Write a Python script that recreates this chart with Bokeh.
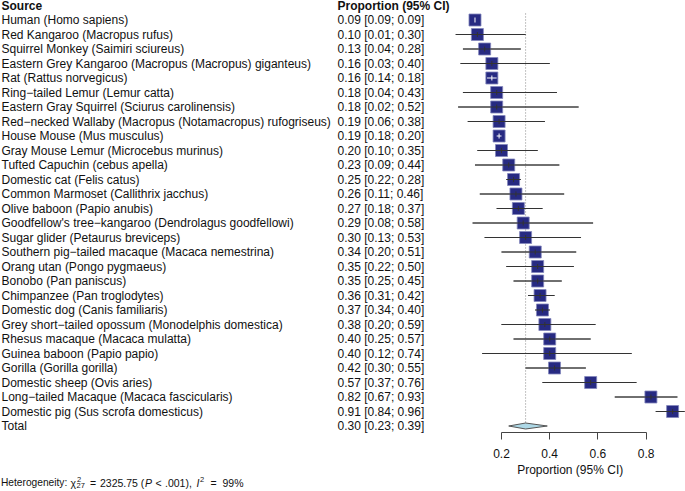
from bokeh.plotting import figure
from bokeh.models import Range1d, FixedTicker, LinearAxis
from bokeh.embed import file_html
from bokeh.resources import INLINE
from bokeh.core.properties import value

# ---------------- data ----------------
species = [
    "Human (Homo sapiens)",
    "Red Kangaroo (Macropus rufus)",
    "Squirrel Monkey (Saimiri sciureus)",
    "Eastern Grey Kangaroo (Macropus (Macropus) giganteus)",
    "Rat (Rattus norvegicus)",
    "Ring\u2212tailed Lemur (Lemur catta)",
    "Eastern Gray Squirrel (Sciurus carolinensis)",
    "Red\u2212necked Wallaby (Macropus (Notamacropus) rufogriseus)",
    "House Mouse (Mus musculus)",
    "Gray Mouse Lemur (Microcebus murinus)",
    "Tufted Capuchin (cebus apella)",
    "Domestic cat (Felis catus)",
    "Common Marmoset (Callithrix jacchus)",
    "Olive baboon (Papio anubis)",
    "Goodfellow's tree\u2212kangaroo (Dendrolagus goodfellowi)",
    "Sugar glider (Petaurus breviceps)",
    "Southern pig\u2212tailed macaque (Macaca nemestrina)",
    "Orang utan (Pongo pygmaeus)",
    "Bonobo (Pan paniscus)",
    "Chimpanzee (Pan troglodytes)",
    "Domestic dog (Canis familiaris)",
    "Grey short\u2212tailed opossum (Monodelphis domestica)",
    "Rhesus macaque (Macaca mulatta)",
    "Guinea baboon (Papio papio)",
    "Gorilla (Gorilla gorilla)",
    "Domestic sheep (Ovis aries)",
    "Long\u2212tailed Macaque (Macaca fascicularis)",
    "Domestic pig (Sus scrofa domesticus)",
]
est = [0.09, 0.10, 0.13, 0.16, 0.16, 0.18, 0.18, 0.19, 0.19, 0.20,
       0.23, 0.25, 0.26, 0.27, 0.29, 0.30, 0.34, 0.35, 0.35, 0.36,
       0.37, 0.38, 0.40, 0.40, 0.42, 0.57, 0.82, 0.91]
lo = [0.09, 0.01, 0.04, 0.03, 0.14, 0.04, 0.02, 0.06, 0.18, 0.10,
      0.09, 0.22, 0.11, 0.18, 0.08, 0.13, 0.20, 0.22, 0.25, 0.31,
      0.34, 0.20, 0.25, 0.12, 0.30, 0.37, 0.67, 0.84]
hi = [0.09, 0.30, 0.28, 0.40, 0.18, 0.43, 0.52, 0.38, 0.20, 0.35,
      0.44, 0.28, 0.46, 0.37, 0.58, 0.53, 0.51, 0.50, 0.45, 0.42,
      0.40, 0.59, 0.57, 0.74, 0.55, 0.76, 0.93, 0.96]
total_name = "Total"
total_est, total_lo, total_hi = 0.30, 0.23, 0.39
tick_values = [0.2, 0.4, 0.6, 0.8]
header_source = "Source"
header_prop = "Proportion (95% CI)"
axis_title = "Proportion (95% CI)"
het_chi2 = "2325.75"
het_df = "27"
het_p = ".001),"
het_i2 = "99%"

# ---------------- layout constants (pixels) ----------------
W, H = 685, 491
ROW = 14.5            # px per row
TOP = 5.0             # px of header row centre from top
PXU = 241.0           # px per proportion unit
ZERO_PX = 452.8       # px position of proportion 0

x_start = -ZERO_PX / PXU
x_end = (W - ZERO_PX) / PXU
k_top = -TOP / ROW
k_bot = k_top + H / ROW


def px2x(px):
    return x_start + px / PXU


def py2k(py):
    return k_top + py / ROW


FONT = value("Liberation Sans")
TXT = "#111111"
NAVY = "#272a82"
SQ_EDGE = "#8386bd"
LINE = "#5a5a5a"

p = figure(width=W, height=H, x_range=Range1d(x_start, x_end),
           y_range=Range1d(k_bot, k_top), output_backend="svg",
           toolbar_location=None, x_axis_location=None, y_axis_location=None,
           min_border_left=0, min_border_right=0, min_border_top=0,
           min_border_bottom=0)
p.grid.visible = False
p.outline_line_color = None
p.background_fill_color = "white"
p.border_fill_color = "white"

n = len(species)
rows = list(range(1, n + 1))
total_row = n + 1

# text columns
x_col1 = px2x(1)
x_col2 = px2x(337)
prop_text = [f"{e:.2f} [{l:.2f}; {h:.2f}]" for e, l, h in zip(est, lo, hi)]
total_text = f"{total_est:.2f} [{total_lo:.2f}; {total_hi:.2f}]"

p.text(x=[x_col1, x_col2], y=[0, 0], text=[header_source, header_prop],
       text_font=FONT, text_font_size="12px", text_font_style="bold",
       text_color=TXT, text_baseline="middle", text_align="left")
p.text(x=[x_col1] * (n + 1), y=rows + [total_row], text=species + [total_name],
       text_font=FONT, text_font_size="12px", text_color=TXT,
       text_baseline="middle", text_align="left")
p.text(x=[x_col2] * (n + 1), y=rows + [total_row], text=prop_text + [total_text],
       text_font=FONT, text_font_size="12px", text_color=TXT,
       text_baseline="middle", text_align="left")

# dotted line at pooled estimate
p.segment(x0=[total_est], y0=[0.55], x1=[total_est], y1=[total_row - 0.2],
          line_color="#888888", line_width=1, line_dash="1 2")

# CI lines
p.segment(x0=lo, y0=rows, x1=hi, y1=rows, line_color=LINE, line_width=1)

# squares
SQ = 12
p.scatter(x=est, y=rows, marker="square", size=SQ, fill_color=NAVY,
          line_color=SQ_EDGE, line_width=0.8)

# CI line and estimate tick on top of the square (white when CI is inside it)
inside_col = ["white" if (h - l) * PXU < SQ else "#333333" for l, h in zip(lo, hi)]
p.segment(x0=lo, y0=rows, x1=hi, y1=rows, line_color=inside_col, line_width=1)
tick_h = 2.5 / ROW
p.segment(x0=est, y0=[r - tick_h for r in rows], x1=est, y1=[r + tick_h for r in rows],
          line_color=inside_col, line_width=1)

# pooled diamond
dh = 3.0 / ROW
p.patch(x=[total_lo, total_est, total_hi, total_est],
        y=[total_row, total_row - dh, total_row, total_row + dh],
        fill_color="#add8e6", line_color="#555555", line_width=1)

# x axis fixed inside the frame
ax = LinearAxis(fixed_location=py2k(432.3))
ax.ticker = FixedTicker(ticks=tick_values)
ax.bounds = (tick_values[0], tick_values[-1])
ax.major_tick_out = 7
ax.major_tick_in = 0
ax.minor_tick_out = 0
ax.minor_tick_in = 0
ax.axis_line_color = "#444444"
ax.major_tick_line_color = "#444444"
ax.major_label_text_font = "Liberation Sans"
ax.major_label_text_font_size = "12px"
ax.major_label_text_color = TXT
ax.major_label_standoff = 9
p.add_layout(ax, "below")

# axis title centred on the data extent
title_x = (min(lo) + max(hi)) / 2
p.text(x=[title_x], y=[py2k(469)], text=[axis_title], text_align="center",
       text_baseline="middle", text_font=FONT, text_font_size="12px",
       text_color=TXT)

# heterogeneity line assembled from pieces (px from left)
HY = py2k(482)
sup_dy = -3.5 / ROW
sub_dy = 3.0 / ROW
FS = "10.5px"
SS = "7.5px"
pieces = [
    ("Heterogeneity:", 0.5, 0, "10.2px", "normal"),
    ("\u03c7", 70, 0, FS, "normal"),
    ("2", 76.5, sup_dy, SS, "normal"),
    (het_df, 76, sub_dy, SS, "normal"),
    ("=", 89.5, 0, FS, "normal"),
    (het_chi2 + " (", 99.5, 0, FS, "normal"),
    ("P", 144.5, 0, FS, "italic"),
    ("<", 155, 0, FS, "normal"),
    (het_p, 164.5, 0, FS, "normal"),
    ("I", 196, 0, FS, "italic"),
    ("2", 199.5, sup_dy, SS, "normal"),
    ("=", 210, 0, FS, "normal"),
    (het_i2, 222, 0, FS, "normal"),
]
for txt, px, dy, fs, style in pieces:
    p.text(x=[px2x(px)], y=[HY + dy], text=[txt], text_align="left",
           text_baseline="middle", text_font=FONT, text_font_size=fs,
           text_font_style=style, text_color=TXT)

open("out.html", "w").write(file_html(p, INLINE))
